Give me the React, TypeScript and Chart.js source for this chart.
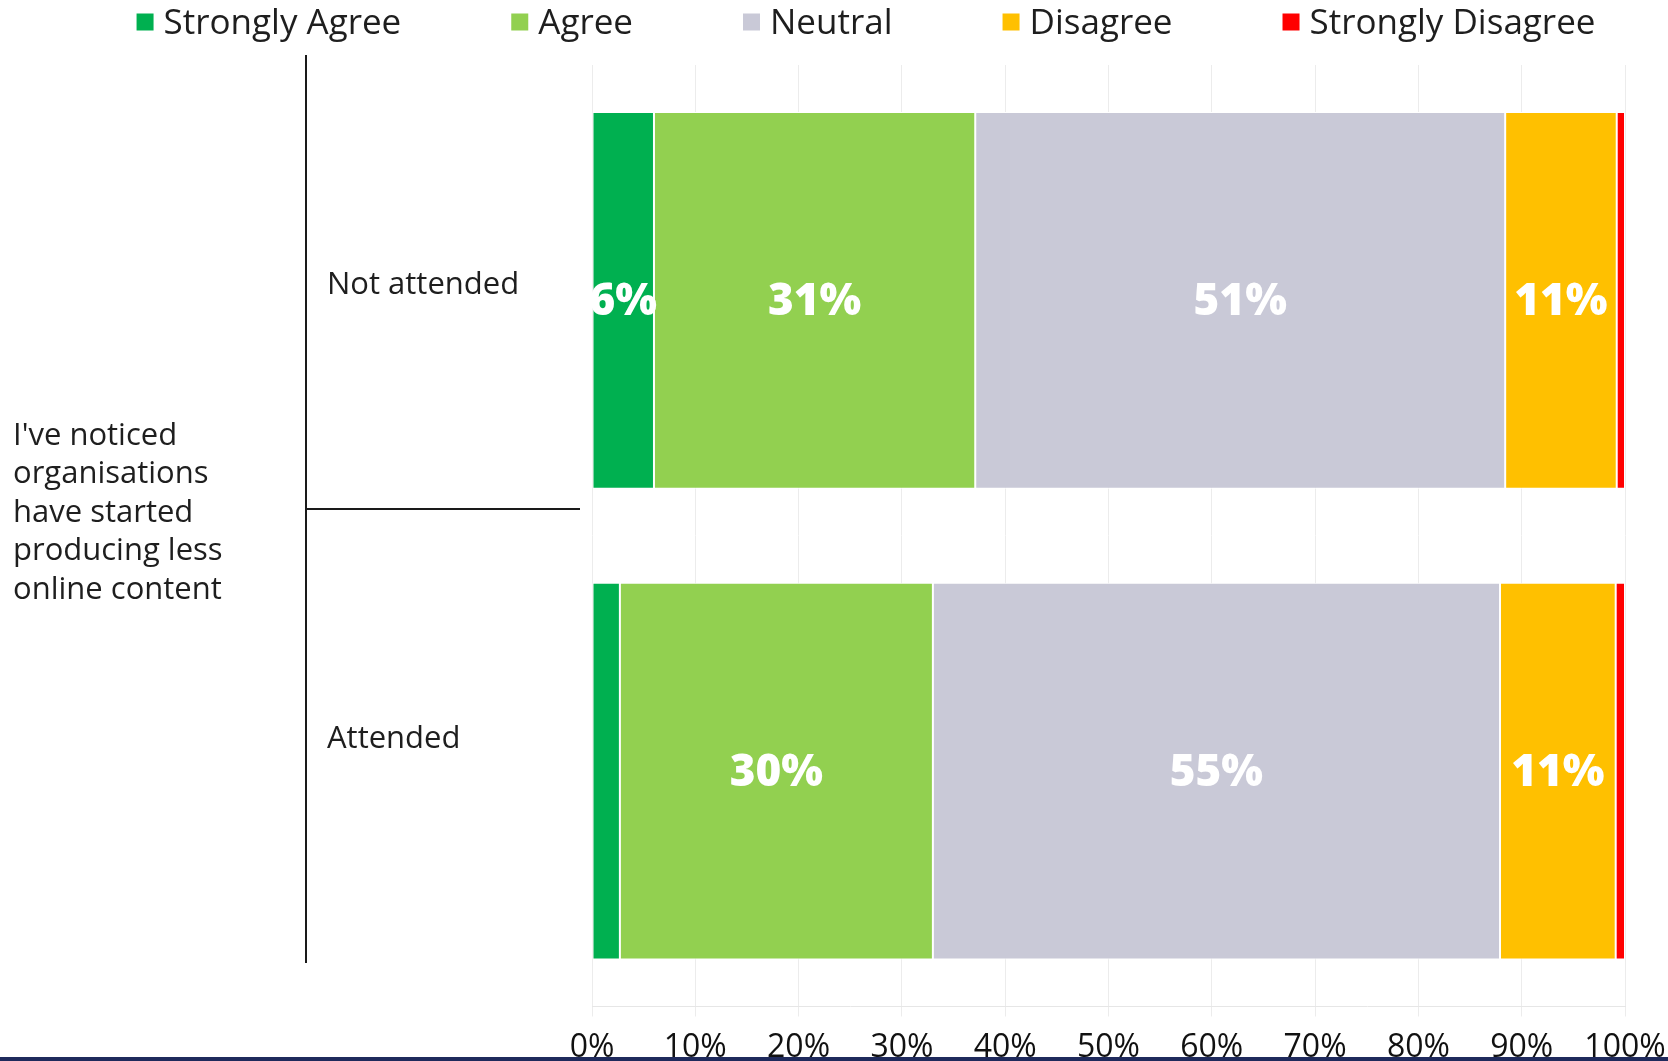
import React, { useEffect, useRef } from "react";
import { Chart, registerables } from "chart.js";

Chart.register(...registerables);

const categories = ["Not attended", "Attended"];
const questionLines = ["I've noticed", "organisations", "have started", "producing less", "online content"];
const seriesNames = ["Strongly Agree", "Agree", "Neutral", "Disagree", "Strongly Disagree"];
const seriesColors = ["#00B050", "#92D050", "#C9C9D7", "#FFC000", "#FF0000"];
const stronglyAgree = [6.0, 2.7];
const agree = [31.1, 30.3];
const neutral = [51.3, 54.9];
const disagree = [10.8, 11.2];
const stronglyDisagree = [0.8, 0.9];
const seriesValues = [stronglyAgree, agree, neutral, disagree, stronglyDisagree];
const xTicks = [0, 10, 20, 30, 40, 50, 60, 70, 80, 90, 100];

const FONT = "'Open Sans', 'DejaVu Sans', sans-serif";
const TEXT = "#1e1e1e";

const decorPlugin = {
  id: "decor",
  afterDatasetsDraw(chart: any) {
    const ctx = chart.ctx;
    ctx.save();
    ctx.font = `800 44px ${FONT}`;
    ctx.fillStyle = "#ffffff";
    ctx.textAlign = "center";
    ctx.textBaseline = "middle";
    chart.data.datasets.forEach((ds: any, di: number) => {
      const meta = chart.getDatasetMeta(di);
      meta.data.forEach((el: any, i: number) => {
        const v = ds.data[i];
        if (v < 5) return;
        const cx = (el.x + el.base) / 2;
        ctx.fillText(Math.round(v) + "%", cx, el.y + 2);
      });
    });
    ctx.restore();
  },
  afterDraw(chart: any) {
    const ctx = chart.ctx;
    const area = chart.chartArea;
    ctx.save();
    // legend
    ctx.font = `35px ${FONT}`;
    ctx.textBaseline = "middle";
    ctx.textAlign = "left";
    const box = 17;
    const gapText = 10;
    const gapItem = 110;
    const items = chart.data.datasets.map((d: any) => ({ label: d.label, color: d.backgroundColor, w: ctx.measureText(d.label).width }));
    const total = items.reduce((s: number, it: any) => s + box + gapText + it.w, 0) + gapItem * (items.length - 1);
    let x = 866 - total / 2;
    const ly = 22;
    items.forEach((it: any) => {
      ctx.fillStyle = it.color;
      ctx.fillRect(x, ly - box / 2, box, box);
      ctx.fillStyle = TEXT;
      ctx.fillText(it.label, x + box + gapText, ly + 2);
      x += box + gapText + it.w + gapItem;
    });

    // left axis structure
    const lineTop = area.top - 10;
    const lineBottom = area.bottom - 43.5;
    const sep = (lineTop + lineBottom) / 2;
    const vx = 306;
    ctx.strokeStyle = "#1a1a1a";
    ctx.lineWidth = 2;
    ctx.beginPath();
    ctx.moveTo(vx, lineTop);
    ctx.lineTo(vx, lineBottom);
    ctx.moveTo(vx, sep);
    ctx.lineTo(area.left - 12, sep);
    ctx.stroke();

    ctx.font = `31px ${FONT}`;
    ctx.fillStyle = TEXT;
    ctx.textAlign = "left";
    ctx.textBaseline = "middle";
    const labels = chart.data.labels;
    const bandH = (lineBottom - lineTop) / labels.length;
    labels.forEach((lab: string, i: number) => {
      ctx.fillText(lab, 327, lineTop + bandH * (i + 0.5) + 3);
    });
    const lh = 38.6;
    const startY = sep + 4 - (lh * (questionLines.length - 1)) / 2;
    questionLines.forEach((t, i) => {
      ctx.fillText(t, 13, startY + i * lh);
    });

    // bottom band
    ctx.fillStyle = "#1F2A5C";
    ctx.fillRect(0, 1057, chart.width, 10);
    ctx.restore();
  },
};

export default function App() {
  const ref = useRef<HTMLCanvasElement | null>(null);
  useEffect(() => {
    if (!ref.current) return;
    const chart = new Chart(ref.current, {
      type: "bar",
      data: {
        labels: categories,
        datasets: seriesNames.map((name, i) => ({
          label: name,
          data: seriesValues[i],
          backgroundColor: seriesColors[i],
          borderColor: "#ffffff",
          borderWidth: 1,
          borderSkipped: false,
          categoryPercentage: 0.8,
          barPercentage: 1.0,
        })),
      },
      options: {
        indexAxis: "y",
        animation: false,
        responsive: true,
        maintainAspectRatio: false,
        layout: { padding: { left: 592, right: 43, top: 65, bottom: 0 } },
        plugins: { legend: { display: false }, tooltip: { enabled: false } },
        scales: {
          x: {
            stacked: true,
            min: 0,
            max: 100,
            afterBuildTicks: (scale: any) => {
              scale.ticks = xTicks.map((v) => ({ value: v }));
            },
            afterFit: (scale: any) => {
              scale.height = 54.5;
              scale.paddingLeft = 0;
              scale.paddingRight = 0;
            },
            ticks: {
              callback: (v: any) => v + "%",
              font: { family: FONT, size: 32, lineHeight: 1.0 },
              color: "#111111",
              padding: 15,
              maxRotation: 0,
              autoSkip: false,
            },
            grid: { color: "#ececec", lineWidth: 1, tickLength: 10, drawTicks: true },
            border: { display: true, color: "#e6e6e6" },
          },
          y: {
            stacked: true,
            display: false,
          },
        },
      },
      plugins: [decorPlugin],
    });
    (document as any).fonts?.ready?.then(() => chart.update());
    return () => chart.destroy();
  }, []);
  return (
    <div style={{ position: "fixed", left: 0, top: 0, width: 1668, height: 1061, background: "#ffffff" }}>
      <canvas ref={ref} />
    </div>
  );
}
